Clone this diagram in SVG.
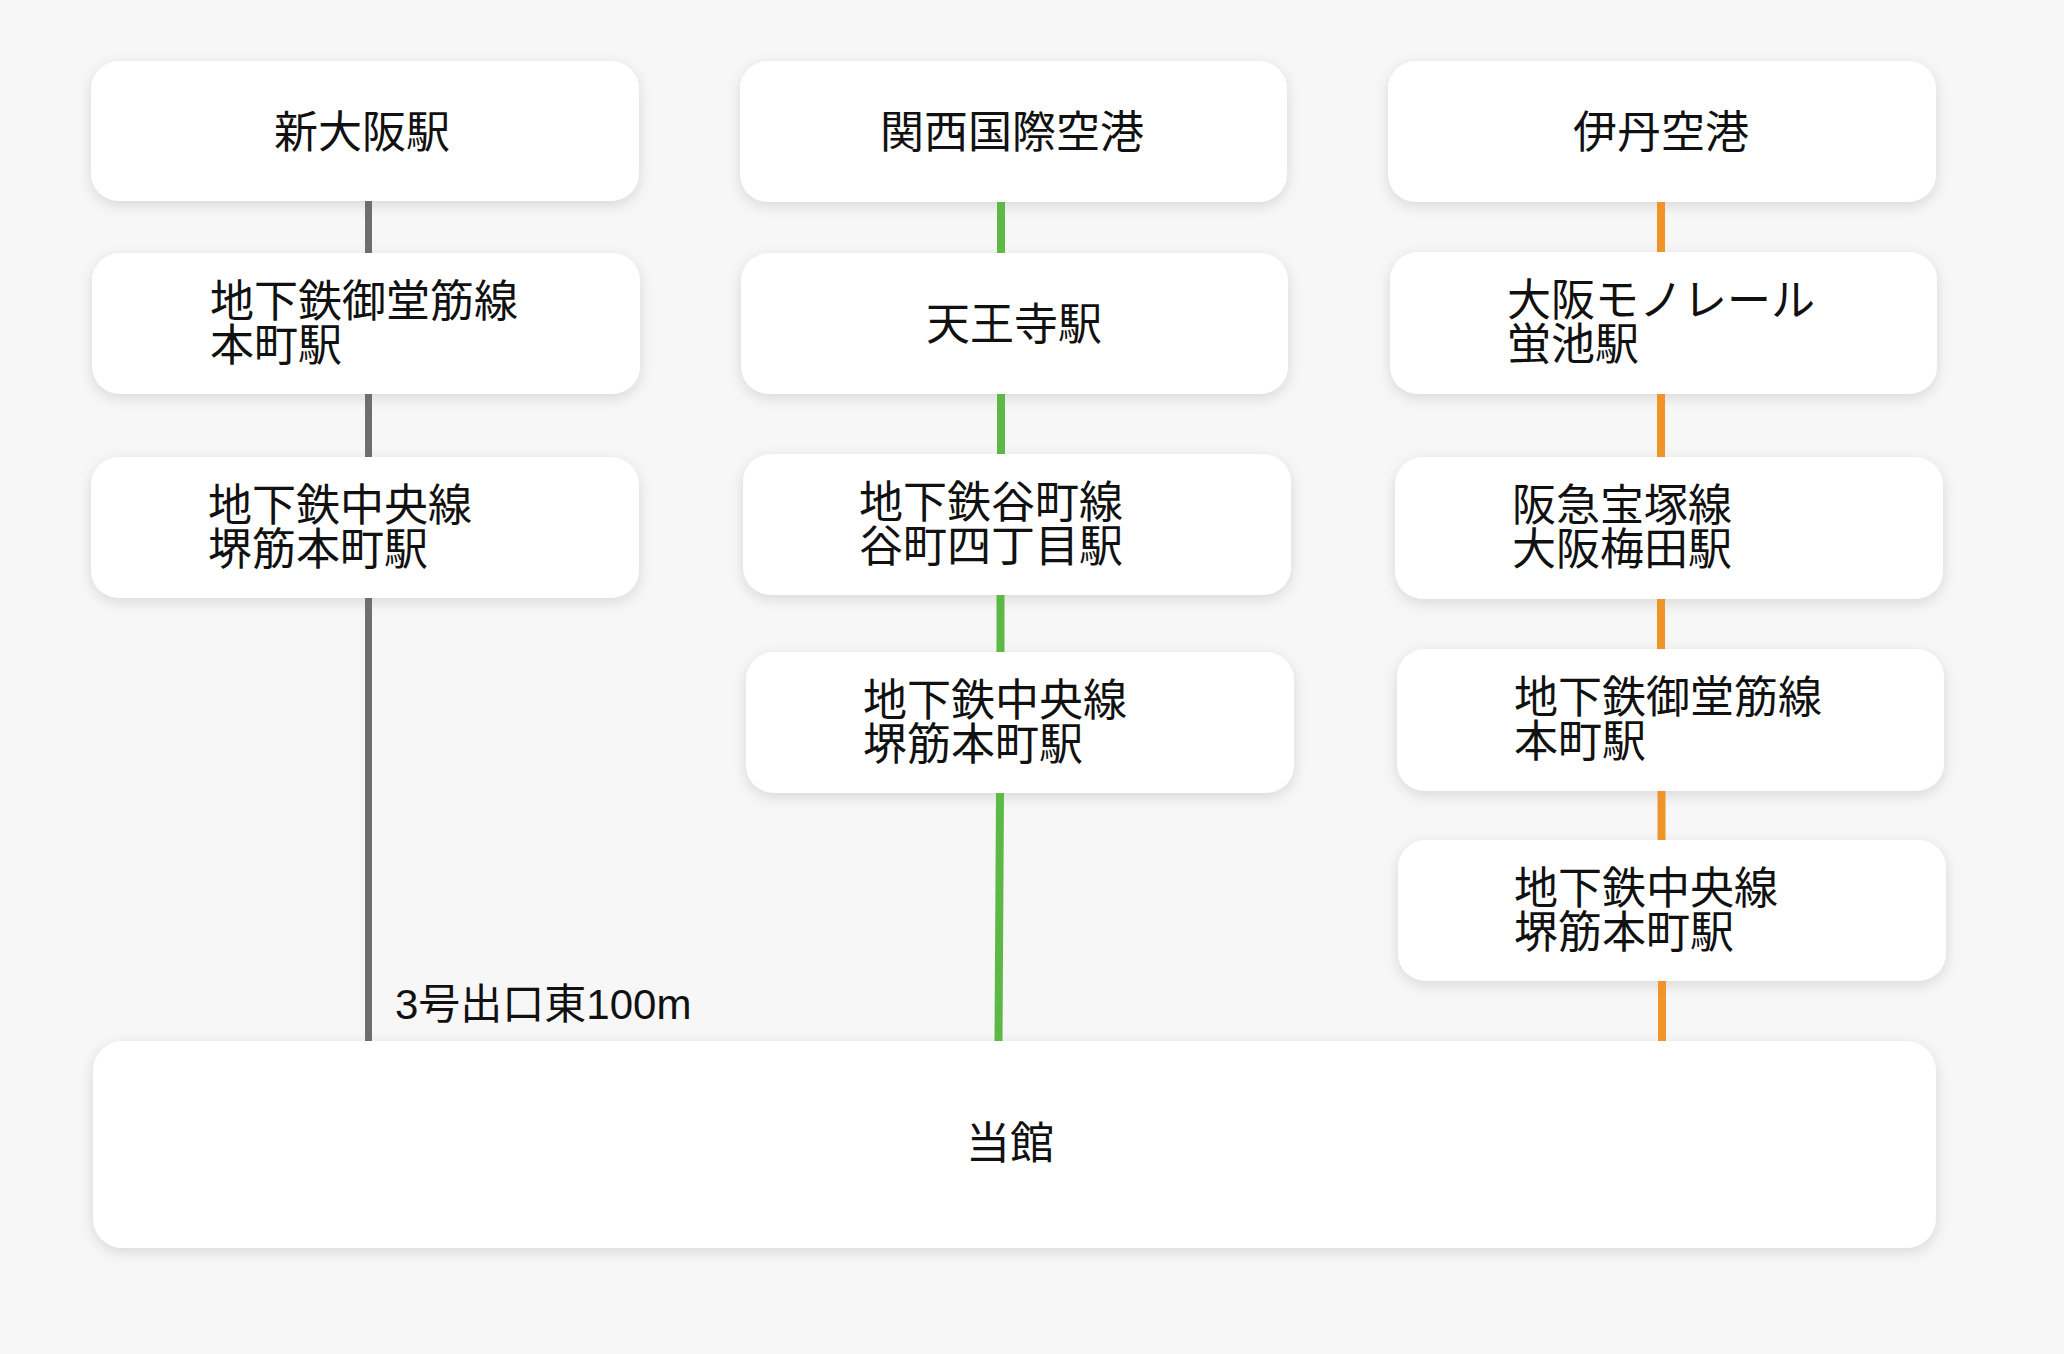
<svg xmlns="http://www.w3.org/2000/svg" width="2064" height="1354" viewBox="0 0 2064 1354">
<defs>
<filter id="sh" x="-10%" y="-30%" width="120%" height="160%">
<feDropShadow dx="0" dy="4" stdDeviation="7" flood-color="#000" flood-opacity="0.13"/>
</filter>
<style>
.box{fill:#ffffff;filter:url(#sh);}
.t{font-family:"Noto Sans CJK JP","Noto Sans CJK SC",sans-serif;font-size:44px;fill:#111;}
.c{text-anchor:middle;}
.lbl{font-family:"Liberation Sans","Noto Sans CJK JP",sans-serif;font-size:42px;fill:#111;}
.gray{stroke:#6e6e6e;stroke-width:7;fill:none;}
.green{stroke:#5cb946;stroke-width:8;fill:none;}
.orange{stroke:#f0942a;stroke-width:8;fill:none;}
</style>
</defs>
<rect x="0" y="0" width="2064" height="1354" fill="#f7f7f7"/>

<g id="nodes">
<g id="shin-osaka"><rect class="box" x="91" y="61" width="548" height="140" rx="28"/><text class="t c" x="362" y="148">新大阪駅</text></g>
<g id="a-midosuji-honmachi"><rect class="box" x="92" y="253" width="548" height="141" rx="28"/><text class="t" x="210" y="317">地下鉄御堂筋線<tspan x="210" y="361">本町駅</tspan></text></g>
<g id="a-chuo-sakaisuji"><rect class="box" x="91" y="457" width="548" height="141" rx="28"/><text class="t" x="208" y="521">地下鉄中央線<tspan x="208" y="565">堺筋本町駅</tspan></text></g>

<g id="kansai-airport"><rect class="box" x="740" y="61" width="547" height="141" rx="28"/><text class="t c" x="1012" y="148">関西国際空港</text></g>
<g id="tennoji"><rect class="box" x="741" y="253" width="547" height="141" rx="28"/><text class="t c" x="1014" y="340">天王寺駅</text></g>
<g id="b-tanimachi"><rect class="box" x="743" y="454" width="548" height="141" rx="28"/><text class="t" x="859" y="518">地下鉄谷町線<tspan x="859" y="562">谷町四丁目駅</tspan></text></g>
<g id="b-chuo-sakaisuji"><rect class="box" x="746" y="652" width="548" height="141" rx="28"/><text class="t" x="863" y="716">地下鉄中央線<tspan x="863" y="760">堺筋本町駅</tspan></text></g>

<g id="itami-airport"><rect class="box" x="1388" y="61" width="548" height="141" rx="28"/><text class="t c" x="1661" y="148">伊丹空港</text></g>
<g id="monorail-hotarugaike"><rect class="box" x="1390" y="252" width="547" height="142" rx="28"/><text class="t" x="1507" y="316">大阪モノレール<tspan x="1507" y="360">蛍池駅</tspan></text></g>
<g id="hankyu-umeda"><rect class="box" x="1395" y="457" width="548" height="142" rx="28"/><text class="t" x="1512" y="521">阪急宝塚線<tspan x="1512" y="565">大阪梅田駅</tspan></text></g>
<g id="c-midosuji-honmachi"><rect class="box" x="1397" y="649" width="547" height="142" rx="28"/><text class="t" x="1514" y="713">地下鉄御堂筋線<tspan x="1514" y="757">本町駅</tspan></text></g>
<g id="c-chuo-sakaisuji"><rect class="box" x="1398" y="840" width="548" height="141" rx="28"/><text class="t" x="1514" y="904">地下鉄中央線<tspan x="1514" y="948">堺筋本町駅</tspan></text></g>

<g id="hotel"><rect class="box" x="93" y="1041" width="1843" height="207" rx="30"/><text class="t c" x="1010" y="1159">当館</text></g>
</g>

<g id="connectors">
<line class="gray" x1="368.5" y1="201" x2="368.5" y2="253"/>
<line class="gray" x1="368.5" y1="394" x2="368.5" y2="457"/>
<line class="gray" x1="368.5" y1="598" x2="368.5" y2="1041"/>
<line class="green" x1="1001" y1="202" x2="1001" y2="253"/>
<line class="green" x1="1001" y1="394" x2="1001" y2="454"/>
<line class="green" x1="1000.5" y1="595" x2="1000.5" y2="652"/>
<line class="green" x1="1000" y1="793" x2="998.5" y2="1041"/>
<line class="orange" x1="1661" y1="202" x2="1661" y2="252"/>
<line class="orange" x1="1661" y1="394" x2="1661" y2="457"/>
<line class="orange" x1="1661" y1="599" x2="1661" y2="649"/>
<line class="orange" x1="1661.5" y1="791" x2="1661.5" y2="840"/>
<line class="orange" x1="1662" y1="981" x2="1662" y2="1041"/>
<text class="lbl" x="395" y="1019">3号出口東100m</text>
</g>
</svg>
